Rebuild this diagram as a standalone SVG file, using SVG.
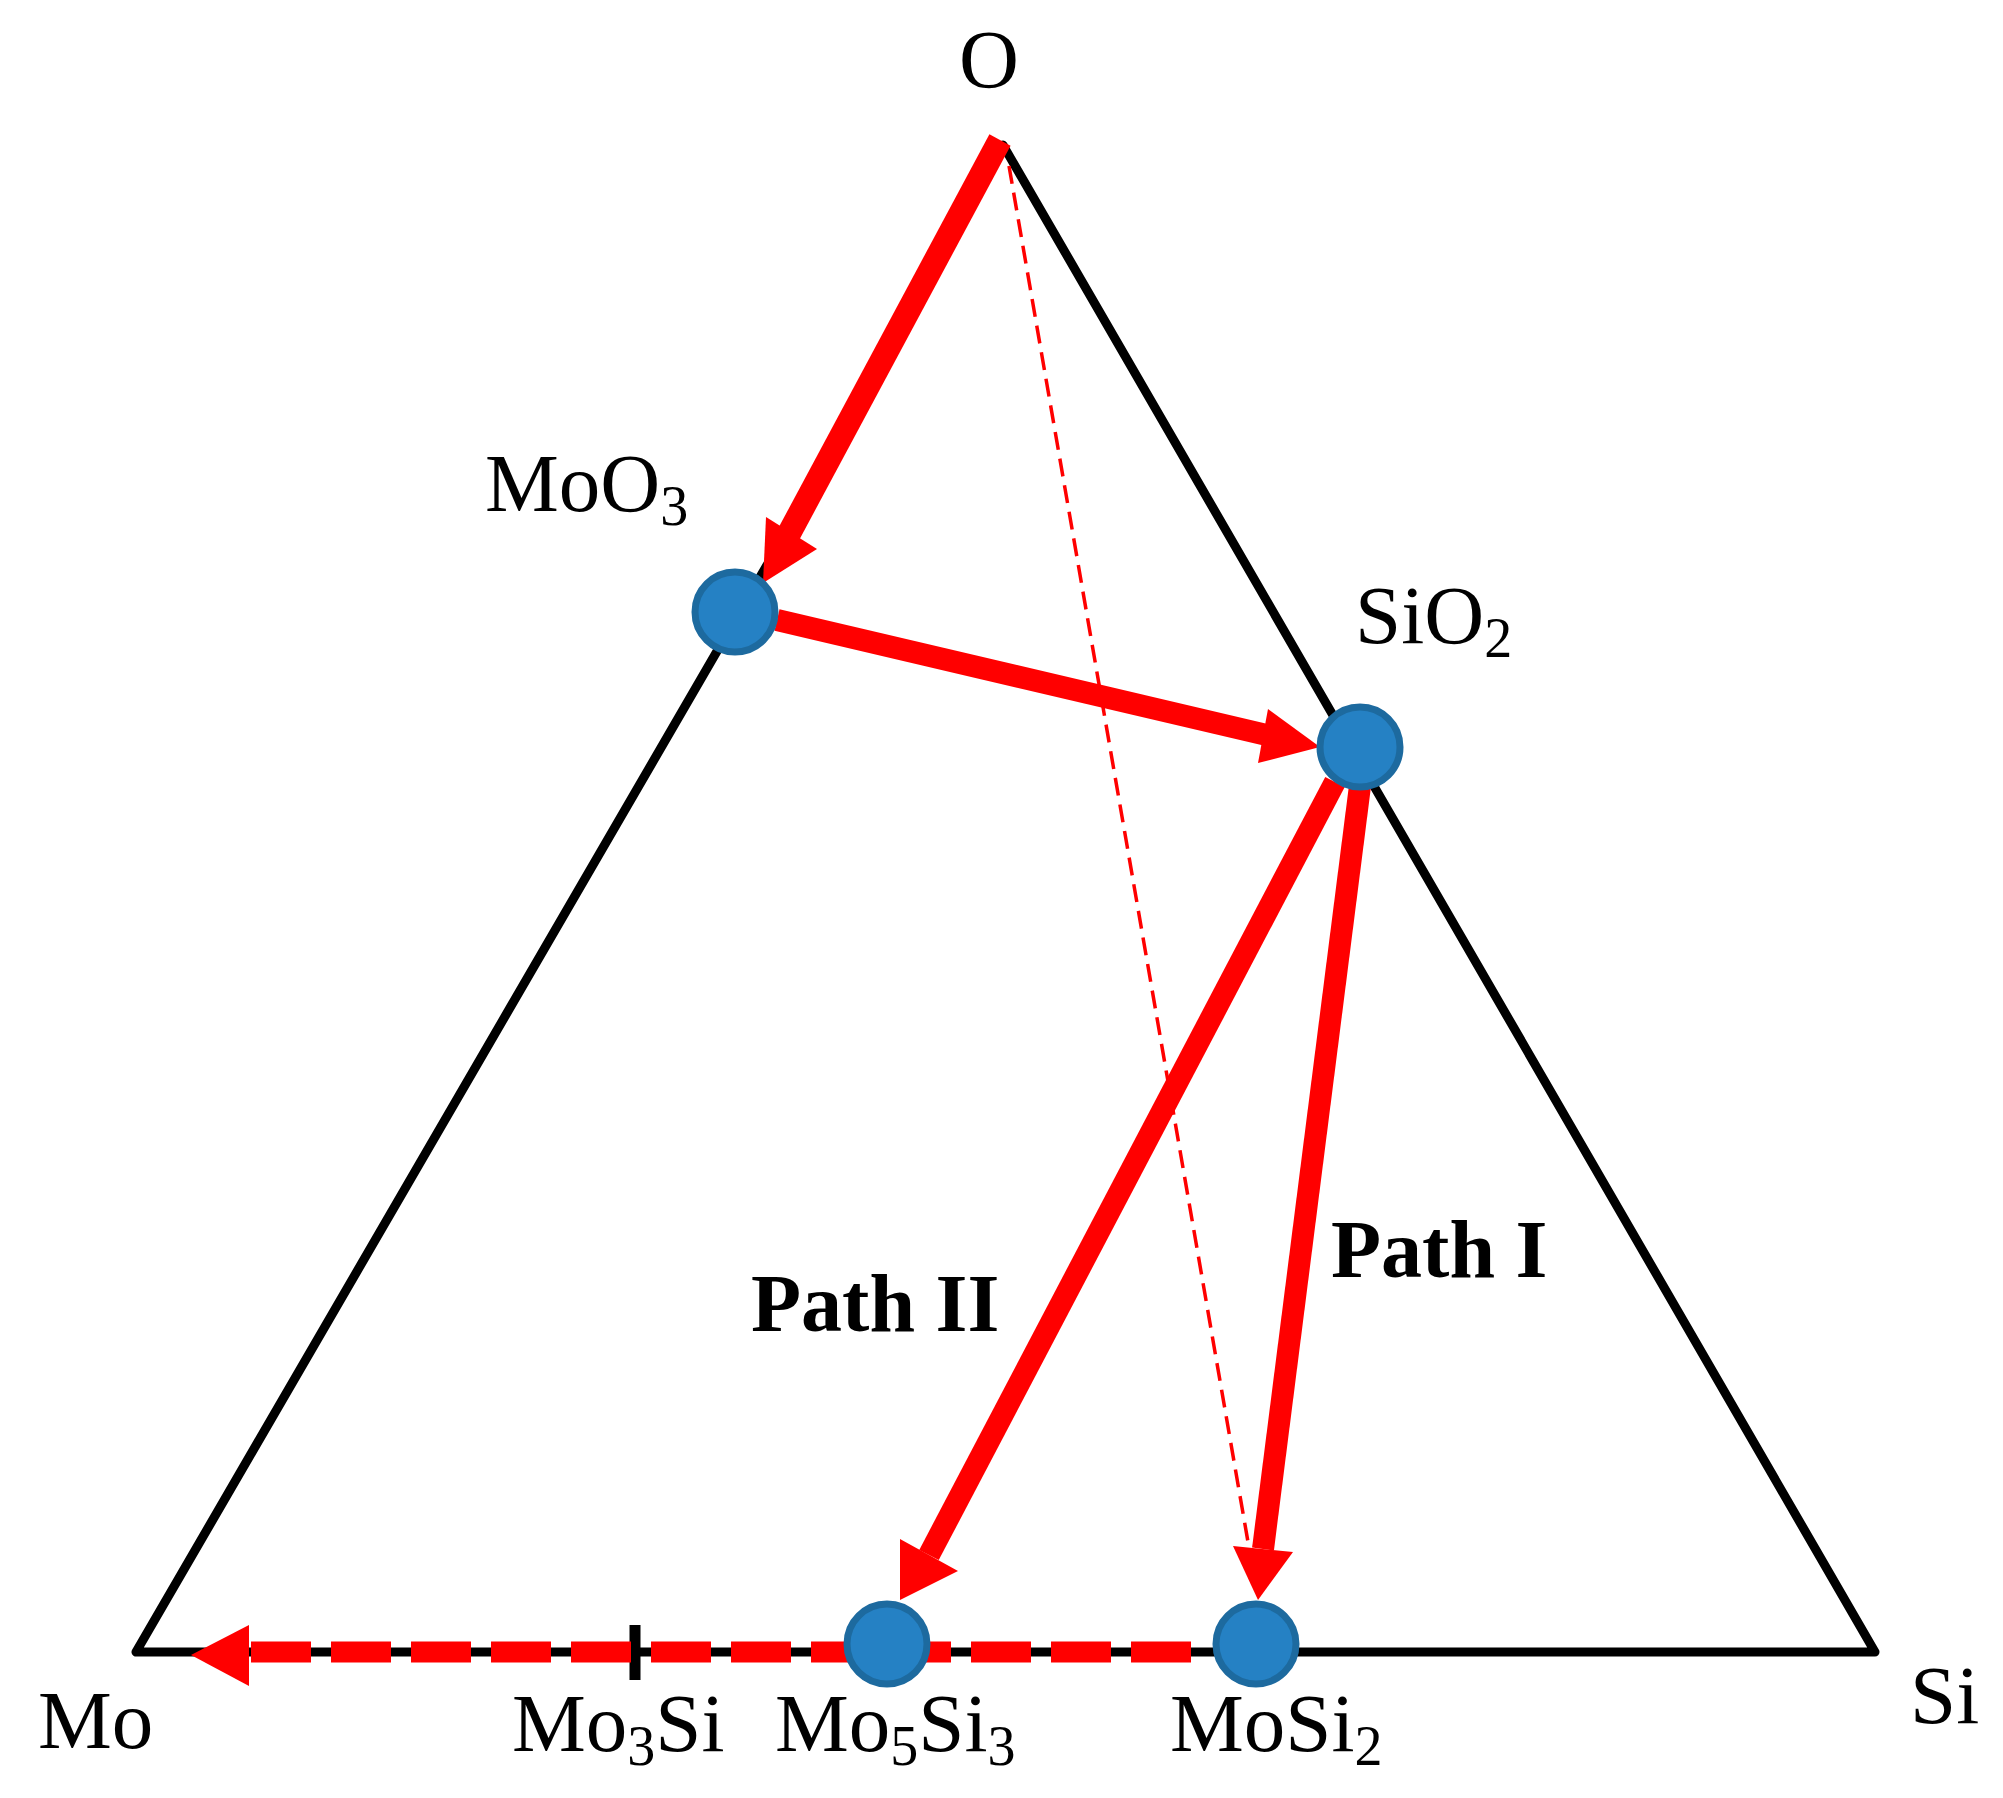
<svg xmlns="http://www.w3.org/2000/svg" width="2003" height="1798" viewBox="0 0 2003 1798">
<style>
text{font-family:"Liberation Serif","Times New Roman",serif;font-size:83px;fill:#000}
.b{font-weight:bold}
.s{font-size:56px}
.n{fill:#2581c4;stroke:#1d6a9f;stroke-width:7}
.a{fill:none;stroke:#f00;stroke-width:22}
</style>
<rect width="2003" height="1798" fill="#fff"/>
<g id="triangle"><path d="M136 1652H1875L1003 145L900 330L770 560Z" fill="none" stroke="#000" stroke-width="9" stroke-linejoin="round"/>
<path d="M635 1625V1680" stroke="#000" stroke-width="11"/></g>
<g id="connectors">
<path d="M1009 166L1252 1565" fill="none" stroke="#f00" stroke-width="3.5" stroke-dasharray="18 9"/>
<path class="a" style="stroke-width:24" d="M1000 140L785 541"/><polygon points="763,583 766,517 817,549" fill="#f00"/>
<path class="a" d="M777 620L1275 737"/><polygon points="1320,747 1268,709 1258,763" fill="#f00"/>
<path class="a" d="M1335 782L929 1555"/><polygon points="900,1600 900,1539 958,1571" fill="#f00"/>
<path class="a" d="M1360 786L1263 1549"/><polygon points="1258,1600 1233,1546 1293,1552" fill="#f00"/>
<path d="M1191 1652H249" fill="none" stroke="#f00" stroke-width="21" stroke-dasharray="60 20"/>
<polygon points="191,1655 249,1625 249,1686" fill="#f00"/>
</g>
<g id="node-moo3"><circle class="n" cx="735" cy="612" r="40"/><text x="485" y="511">MoO<tspan class="s" dy="14">3</tspan></text></g>
<g id="node-sio2"><circle class="n" cx="1360" cy="747" r="40"/><text x="1355" y="643">SiO<tspan class="s" dy="14">2</tspan></text></g>
<g id="node-mo5si3"><circle class="n" cx="887" cy="1644" r="40"/><text x="775" y="1751">Mo<tspan class="s" dy="14">5</tspan><tspan dy="-14">Si</tspan><tspan class="s" dy="14">3</tspan></text></g>
<g id="node-mosi2"><circle class="n" cx="1256" cy="1644" r="40"/><text x="1170" y="1751">MoSi<tspan class="s" dy="14">2</tspan></text></g>
<g id="labels">
<text x="959" y="87">O</text>
<text x="38" y="1748">Mo</text>
<text x="1910" y="1723">Si</text>
<text x="512" y="1751">Mo<tspan class="s" dy="14">3</tspan><tspan dy="-14">Si</tspan></text>
<text class="b" x="1331" y="1277" style="font-size:82px">Path I</text>
<text class="b" x="751" y="1331" style="font-size:82px">Path II</text>
</g>
</svg>
